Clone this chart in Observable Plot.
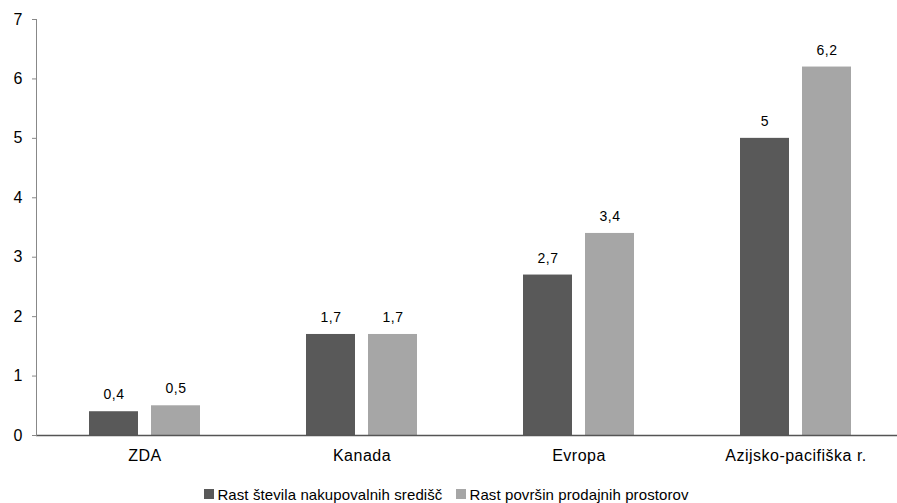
<!DOCTYPE html>
<html>
<head>
<meta charset="utf-8">
<script src="https://cdn.jsdelivr.net/npm/d3@7"></script>
<script src="https://cdn.jsdelivr.net/npm/@observablehq/plot@0.6"></script>
<style>
  html, body { margin: 0; padding: 0; background: #fff; }
  body { width: 897px; height: 503px; overflow: hidden; font-family: "Liberation Sans", Arial, sans-serif; }
  #chart svg { display: block; }
  #chart svg text { font-family: "Liberation Sans", Arial, sans-serif; }
  #chart svg g[aria-label="y-axis tick label"] text { font-size: 16px; }
  #chart svg g[aria-label="fx-axis tick label"] text { font-size: 16px; letter-spacing: 0.5px; }
  #chart svg g[aria-label="text"] text { font-size: 14px; letter-spacing: 0.5px; }
  .legend { display: flex; justify-content: center; align-items: center; height: 20px; margin-top: 14px;
            font-size: 15px; letter-spacing: 0.1px; color: #000; padding-right: 4px; }
  .legend .item { display: flex; align-items: center; margin: 0 7px; }
  .legend .sw { width: 10px; height: 10px; margin-right: 3px; }
</style>
</head>
<body>
<div id="chart"></div>
<div class="legend" id="legend"></div>
<script>
const categories = ["ZDA", "Kanada", "Evropa", "Azijsko-pacifiška r."];
const seriesNames = ["Rast števila nakupovalnih središč", "Rast površin prodajnih prostorov"];
const seriesA = [0.4, 1.7, 2.7, 5];
const seriesB = [0.5, 1.7, 3.4, 6.2];
const yTicks = [0, 1, 2, 3, 4, 5, 6, 7];
const colors = ["#595959", "#a6a6a6"];

const data = categories.flatMap((c, i) => [
  {cat: c, series: seriesNames[0], value: seriesA[i]},
  {cat: c, series: seriesNames[1], value: seriesB[i]}
]);
const fmt = v => String(v).replace(".", ",");

const chart = Plot.plot({
  width: 897,
  height: 470,
  marginLeft: 35,
  marginRight: -8,
  marginTop: 19,
  marginBottom: 35,
  style: {fontFamily: "'Liberation Sans', Arial, sans-serif", fontSize: "15px", color: "#000", overflow: "hidden"},
  fx: {domain: categories, padding: 0, label: null, axis: null},
  x: {domain: seriesNames, paddingInner: 0.216, paddingOuter: 0.85, axis: null},
  y: {domain: [0, 7], axis: null},
  color: {domain: seriesNames, range: colors},
  marks: [
    Plot.barY(data, {fx: "cat", x: "series", y: "value", fill: "series"}),
    Plot.text(data, {fx: "cat", x: "series", y: "value", text: d => fmt(d.value), dy: -17, fill: "#000"}),
    Plot.ruleY([0], {stroke: "#555", strokeWidth: 1.3}),
    Plot.axisY({ticks: yTicks, tickSize: 4, tickPadding: 10, stroke: "#888", fill: "#000", tickFormat: d => fmt(d), label: null}),
    Plot.axisFx({anchor: "bottom", tickSize: 0, tickPadding: 14, label: null, fill: "#000"}),
    Plot.frame({anchor: "left", facetAnchor: "left", stroke: "#888"})
  ]
});
document.getElementById("chart").appendChild(chart);

const legend = document.getElementById("legend");
seriesNames.forEach((s, i) => {
  const item = document.createElement("div");
  item.className = "item";
  const sw = document.createElement("span");
  sw.className = "sw";
  sw.style.background = colors[i];
  const t = document.createElement("span");
  t.textContent = s;
  item.appendChild(sw);
  item.appendChild(t);
  legend.appendChild(item);
});
</script>
</body>
</html>
